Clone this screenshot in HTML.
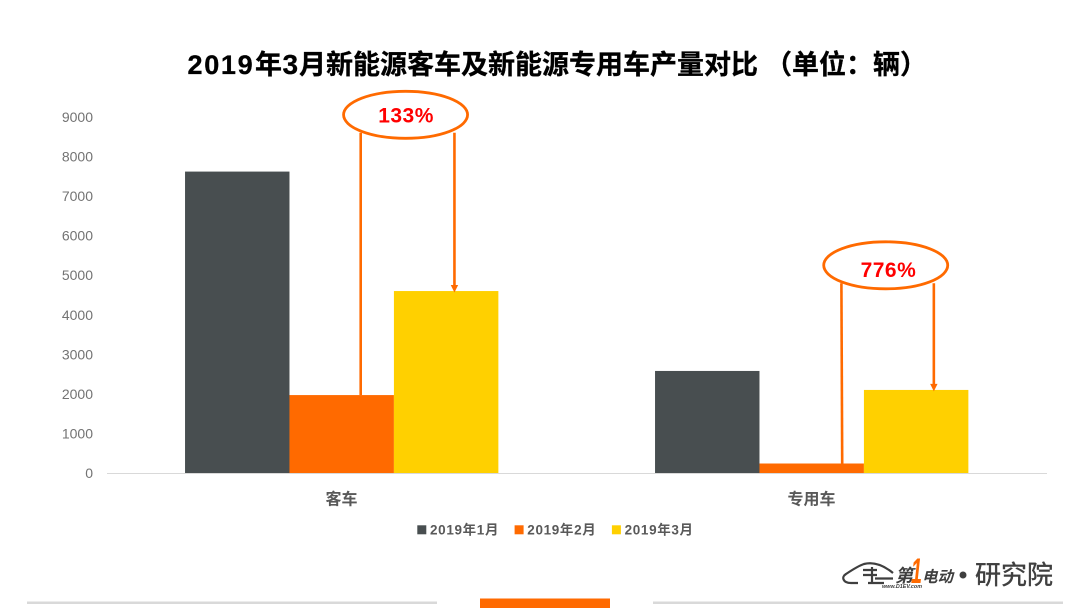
<!DOCTYPE html>
<html lang="zh">
<head>
<meta charset="utf-8">
<title>2019年3月新能源客车及新能源专用车产量对比</title>
<style>
html,body{margin:0;padding:0;background:#fff;}
#stage{display:block;width:1080px;height:608px;}
text{font-family:"Liberation Sans","Noto Sans CJK SC",sans-serif;}
</style>
</head>
<body>
<svg id="stage" xmlns="http://www.w3.org/2000/svg" width="1080" height="608" viewBox="0 0 1080 608">
  <rect x="0" y="0" width="1080" height="608" fill="#ffffff"/>
  <text y="74" font-size="27" font-weight="700" fill="#000000" stroke="#000000" stroke-width="0.3"><tspan x="187.5" letter-spacing="1.7">2019</tspan><tspan x="255">年</tspan><tspan x="282.5" font-size="28">3</tspan><tspan x="299">月新能源客车及新能源专用车产量对比</tspan><tspan x="765">（单位：辆）</tspan></text>
  <g id="plot"></g>
  <g id="legend"></g>
  <g id="notes"></g>
  <g>
    <path d="M851 583 C843 583 841 577 846 574 C852 570 858 566 864 564 C872 562 882 564 893 573 M851 583 H858 M863 570 H877 M863 575 H877 M872 567 V582 M875 578.5 H893 M868 583 H884" fill="none" stroke="#3f3f3f" stroke-width="2.2"/>
    <text x="895" y="582" font-size="18" font-weight="700" font-style="italic" fill="#3f3f3f">第</text>
    <text x="911" y="583" font-size="35" font-weight="700" font-style="italic" fill="#ff6a00" textLength="11" lengthAdjust="spacingAndGlyphs">1</text>
    <text x="922" y="582" font-size="15.5" font-weight="700" font-style="italic" fill="#3f3f3f" textLength="31" lengthAdjust="spacing">电动</text>
    <text x="882" y="588" font-size="5" font-weight="700" font-style="italic" fill="#3f3f3f" textLength="40" lengthAdjust="spacingAndGlyphs">www.D1EV.com</text>
    <circle cx="963" cy="575" r="3.5" fill="#3f3f3f"/>
    <text x="975" y="584" font-size="26" fill="#3f3f3f" stroke="#3f3f3f" stroke-width="0.4" textLength="78" lengthAdjust="spacing">研究院</text>
  </g>
  <rect x="27" y="601.5" width="410" height="2.5" fill="#d9d9d9"/>
  <rect x="480" y="598.5" width="130" height="9.5" fill="#ff6a00"/>
  <rect x="653" y="601.5" width="410" height="2.5" fill="#d9d9d9"/>
</svg>
<script>
const categories = ['客车', '专用车'];
const seriesNames = ['2019年1月', '2019年2月', '2019年3月'];
const seriesJan = [7620, 2580];
const seriesFeb = [1970, 240];
const seriesMar = [4600, 2100];
const tickLabels = [0, 1000, 2000, 3000, 4000, 5000, 6000, 7000, 8000, 9000];
const growthLabels = ['133%', '776%'];

const seriesValues = [seriesJan, seriesFeb, seriesMar];
const seriesColors = ['#484e50', '#ff6a00', '#ffd000'];
const NS = 'http://www.w3.org/2000/svg';
const plotLeft = 107, plotRight = 1047, baseY = 473, topY = 117, axisMax = 9000;

function yScale(v) {
  return baseY - (v / axisMax) * (baseY - topY);
}
const bandWidth = (plotRight - plotLeft) / categories.length;
const barWidth = bandWidth / (seriesNames.length + 1.5);
function xBand(i) {
  return plotLeft + bandWidth * i;
}
function xBar(catIndex, seriesIndex) {
  return xBand(catIndex) + barWidth * 0.75 + barWidth * seriesIndex - 0.3;
}
function make(tag, attrs, parent, content) {
  const el = document.createElementNS(NS, tag);
  Object.keys(attrs).forEach(function (k) { el.setAttribute(k, attrs[k]); });
  if (content !== undefined) el.textContent = content;
  parent.appendChild(el);
  return el;
}

const plot = document.getElementById('plot');
tickLabels.forEach(function (t) {
  const label = make('text', { x: 93, y: yScale(t) + 5, 'text-anchor': 'end', 'font-size': 14, fill: '#737373' }, plot, String(t));
  
  
});
seriesValues.forEach(function (values, s) {
  values.forEach(function (v, c) {
    const bar = make('rect', { x: xBar(c, s), y: yScale(v), width: barWidth, height: baseY - yScale(v), fill: seriesColors[s] }, plot);
    
    
  });
});
const axisLine = make('line', { x1: plotLeft, x2: plotRight, y1: baseY + 0.5, y2: baseY + 0.5, stroke: '#d9d9d9', 'stroke-width': 1 }, plot);


categories.forEach(function (name, c) {
  const label = make('text', { x: xBand(c) + bandWidth / 2 - 0.5, y: 504.5, 'text-anchor': 'middle', 'font-size': 16, 'font-weight': 700, fill: '#595959' }, plot, name);
  
  
});

const legend = document.getElementById('legend');
seriesNames.forEach(function (name, s) {
  const lx = 417.3 + 97.3 * s;
  const swatch = make('rect', { x: lx, y: 525.3, width: 9, height: 9, fill: seriesColors[s] }, legend);
  
  
  const text = make('text', { x: lx + 12.7, y: 534.5, 'font-size': 13.5, 'font-weight': 700, 'letter-spacing': 0.65, fill: '#595959' }, legend, name);
  
  
});

const notes = document.getElementById('notes');
const noteStroke = '#ff6a00';
growthLabels.forEach(function (label, c) {
  const barCentreFeb = xBar(c, 1) + barWidth / 2;
  const barCentreMar = xBar(c, 2) + barWidth / 2;
  const startX = barCentreFeb + (c === 0 ? 19 : 30.5);
  const startXTop = barCentreFeb + (c === 0 ? 19 : 29.7);
  const endX = barCentreMar + (c === 0 ? 8.3 : 17.7);
  const ellipseCx = (startX + endX) / 2 + (c === 0 ? -2 : -2.3);
  const ellipseCy = c === 0 ? 114.8 : 265.3;
  const tailTop = ellipseCy + 18;
  const riser = make('line', { x1: startXTop, y1: tailTop, x2: startX, y2: yScale(seriesFeb[c]), stroke: noteStroke, 'stroke-width': 2.6 }, notes);
  
  
  const drop = make('line', { x1: endX, y1: tailTop, x2: endX, y2: yScale(seriesMar[c]) - 5, stroke: noteStroke, 'stroke-width': 2.6 }, notes);
  
  
  const tipY = yScale(seriesMar[c]) + 1.5;
  const head = make('polygon', { points: (endX - 3.7) + ',' + (tipY - 7.5) + ' ' + (endX + 3.7) + ',' + (tipY - 7.5) + ' ' + endX + ',' + tipY, fill: noteStroke }, notes);
  
  
  const oval = make('ellipse', { cx: ellipseCx, cy: ellipseCy, rx: 62, ry: 23.5, fill: '#ffffff', stroke: noteStroke, 'stroke-width': 2.8 }, notes);
  
  
  const pct = make('text', { x: ellipseCx + (c === 0 ? 0.5 : 2.7), y: ellipseCy + (c === 0 ? 7.7 : 11.7), 'text-anchor': 'middle', 'font-size': 21, 'font-weight': 700, 'letter-spacing': 0.5, fill: '#ff0000' }, notes, label);
  
  
});
</script>
</body>
</html>
